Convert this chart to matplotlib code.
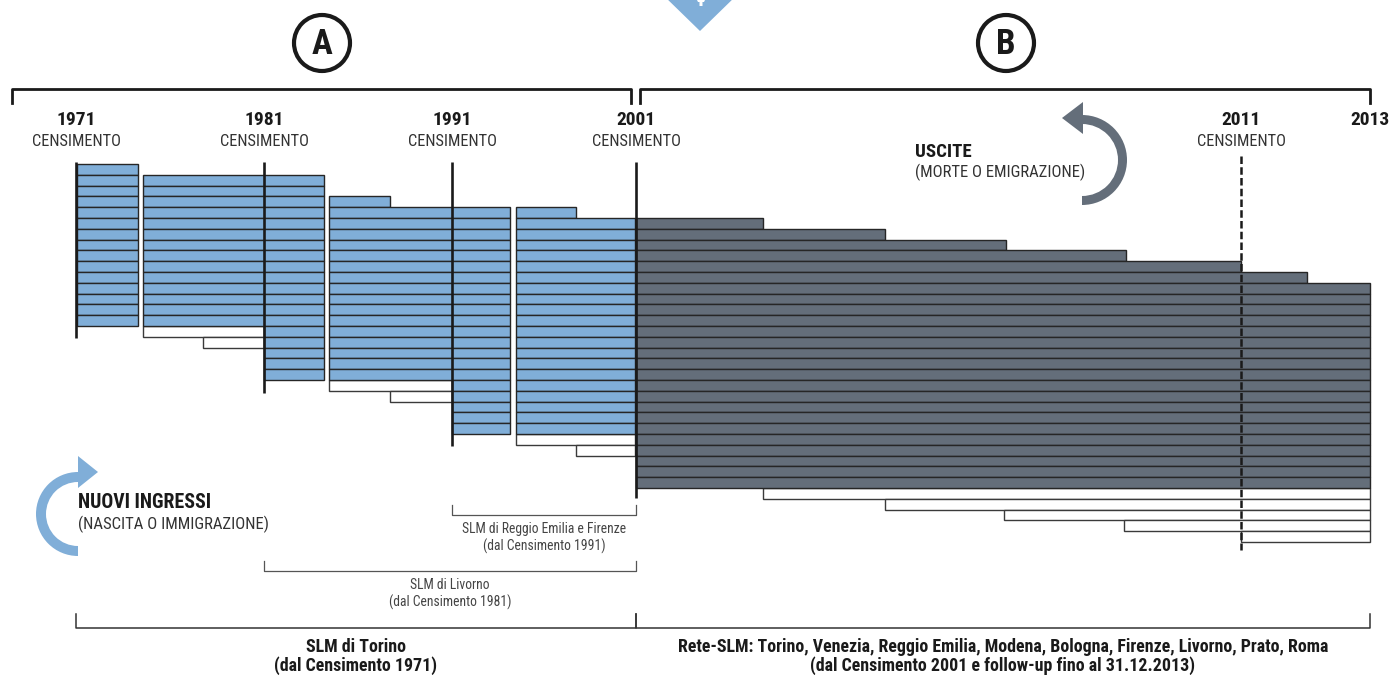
"""
Schema SLM / Rete-SLM: coorti censuarie 1971-2001 (A) e follow-up 2001-2013 (B).
Disegno in coordinate "pixel" del riquadro (x: 0-1392, y: 0-675, y verso il basso).
"""
import matplotlib; matplotlib.use("Agg")
import matplotlib.pyplot as plt
from matplotlib.patches import Circle, Wedge, Polygon
from matplotlib import font_manager

# carattere stretto se disponibile
names = {f.name for f in font_manager.fontManager.ttflist}
cands = ["Roboto Condensed", "Liberation Sans Narrow", "DejaVu Sans Condensed",
         "Open Sans Condensed", "Roboto", "Liberation Sans"]
FONT = [n for n in cands if n in names] + ["DejaVu Sans"]
plt.rcParams["font.family"] = FONT
NARROW = FONT[0] in ("Roboto Condensed", "Liberation Sans Narrow", "DejaVu Sans Condensed", "Open Sans Condensed")
K = 1.0 if NARROW else 0.8   # riduzione se il carattere non e' stretto

BLUE = "#80aed8"
DARK = "#646e7a"
EDGE = "#262626"

# censimenti: etichetta, posizione, fine della linea verticale
census_year = ["1971", "1981", "1991", "2001"]
census_x = [76, 264, 452, 636]
census_bottom = [338, 393, 446, 498]
follow_year = ["2011", "2013"]
follow_x = [1241, 1370]

# righe (individui): (riga_da, riga_a, inizio, fine)
blue_runs = [
    (0, 14, 77, 138),
    (1, 14, 143, 324), (15, 19, 264, 324),
    (3, 3, 329, 390), (4, 19, 329, 510), (20, 24, 452, 510),
    (4, 4, 516, 576), (5, 24, 516, 635),
]
white_runs = [
    (15, 15, 143, 264), (16, 16, 203, 264),
    (20, 20, 329, 452), (21, 21, 390, 452),
    (25, 25, 516, 635), (26, 26, 576, 635),
    (30, 30, 763, 1370), (31, 31, 885, 1370), (32, 32, 1004, 1370),
    (33, 33, 1124, 1370), (34, 34, 1241, 1370),
]
dark_runs = [
    (5, 5, 636, 763), (6, 6, 636, 885), (7, 7, 636, 1006), (8, 8, 636, 1126),
    (9, 9, 636, 1241), (10, 10, 636, 1307), (11, 29, 636, 1370),
]
ROW0, ROWH = 164, 10.8

# parentesi in basso: x0, x1, y, righe di testo, grassetto
brackets = [
    (452, 636, 515, ["SLM di Reggio Emilia e Firenze", "(dal Censimento 1991)"], False),
    (264, 636, 571, ["SLM di Livorno", "(dal Censimento 1981)"], False),
    (76, 636, 628, ["SLM di Torino", "(dal Censimento 1971)"], True),
    (636, 1370, 628, ["Rete-SLM: Torino, Venezia, Reggio Emilia, Modena, Bologna, Firenze, Livorno, Prato, Roma",
                      "(dal Censimento 2001 e follow-up fino al 31.12.2013)"], True),
]

fig = plt.figure(figsize=(13.92, 6.75), dpi=100)
ax = fig.add_axes([0, 0, 1, 1])
ax.set_xlim(0, 1392); ax.set_ylim(675, 0); ax.axis("off")


def draw_runs(runs, color, ec, lw):
    for r0, r1, x0, x1 in runs:
        rows = list(range(r0, r1 + 1))
        ax.barh([ROW0 + (r + 0.5) * ROWH for r in rows], x1 - x0, left=x0, height=ROWH,
                color=color, edgecolor=ec, linewidth=lw, zorder=2)


draw_runs(white_runs, "white", "#3a3a3a", 1.0)
draw_runs(blue_runs, BLUE, EDGE, 1.0)
draw_runs(dark_runs, DARK, EDGE, 1.0)

# linee dei censimenti
for x, yb in zip(census_x, census_bottom):
    ax.plot([x, x], [162, yb], color="#1a1a1a", lw=1.9, zorder=4, solid_capstyle="butt")
ax.plot([follow_x[0]] * 2, [156, 550], color="#1a1a1a", lw=1.8, ls=(0, (3, 1.3)), zorder=4)

# etichette degli anni
for lab, x in zip(census_year + [follow_year[0]], census_x + [follow_x[0]]):
    ax.text(x, 120, lab, ha="center", va="center", fontsize=14 * K, fontweight="bold", color="#1a1a1a")
    ax.text(x, 142, "CENSIMENTO", ha="center", va="center", fontsize=11.8 * K, color="#333333")
ax.text(follow_x[1], 120, follow_year[1], ha="center", va="center", fontsize=14 * K,
        fontweight="bold", color="#1a1a1a")

# parentesi in alto A / B
for x0, x1 in [(12, 631), (640, 1370)]:
    ax.plot([x0, x0, x1, x1], [103, 89, 89, 103], color="#1a1a1a", lw=2.0, zorder=3)
for cx, lab in [(322, "A"), (1006, "B")]:
    ax.add_patch(Circle((cx, 43), 28, fill=False, ec="#1a1a1a", lw=3.0))
    ax.text(cx, 44, lab, ha="center", va="center", fontsize=25, fontweight="bold", color="#1a1a1a")

# triangolo blu tagliato in alto
ax.add_patch(Polygon([(662, -6), (738, -6), (700, 31)], closed=True, color=BLUE, lw=0))
ax.add_patch(Polygon([(697, 0), (705, 0), (704, 2), (702.5, 2), (702.5, 6), (699.5, 6), (699.5, 2), (698, 2)],
                     closed=True, color="white", lw=0))

# freccia uscite
ax.add_patch(Wedge((1082, 160), 45, -90, 90, width=9, color=DARK, lw=0))
ax.add_patch(Polygon([(1083, 102), (1083, 134), (1062, 118)], closed=True, color=DARK, lw=0))
ax.text(915, 152, "USCITE", ha="left", va="center", fontsize=13.6 * K, fontweight="bold", color="#1a1a1a")
ax.text(915, 172, "(MORTE O EMIGRAZIONE)", ha="left", va="center", fontsize=12 * K, color="#333333")

# freccia nuovi ingressi
ax.add_patch(Wedge((78, 514), 42, 90, 270, width=10, color=BLUE, lw=0))
ax.add_patch(Polygon([(78, 456), (78, 488), (98, 472)], closed=True, color=BLUE, lw=0))
ax.text(78, 503, "NUOVI INGRESSI", ha="left", va="center", fontsize=14.2 * K, fontweight="bold", color="#1a1a1a")
ax.text(78, 524, "(NASCITA O IMMIGRAZIONE)", ha="left", va="center", fontsize=12 * K, color="#333333")

# parentesi in basso
for x0, x1, y, lines, bold in brackets:
    h = 14 if bold else 10
    ax.plot([x0, x0, x1, x1], [y - h, y, y, y - h], color="#333333" if bold else "#555555",
            lw=1.1 if bold else 0.9, zorder=3)
    xm = (x0 + x1) / 2
    if bold:
        for i, t in enumerate(lines):
            ax.text(xm, y + 19 + 19 * i, t, ha="center", va="center", fontsize=12.9 * K,
                    fontweight="bold", color="#1a1a1a")
    else:
        for i, t in enumerate(lines):
            ax.text(xm, y + 14 + 17 * i, t, ha="center", va="center", fontsize=9.8 * K, color="#444444")

fig.savefig("out.png", dpi=100)
